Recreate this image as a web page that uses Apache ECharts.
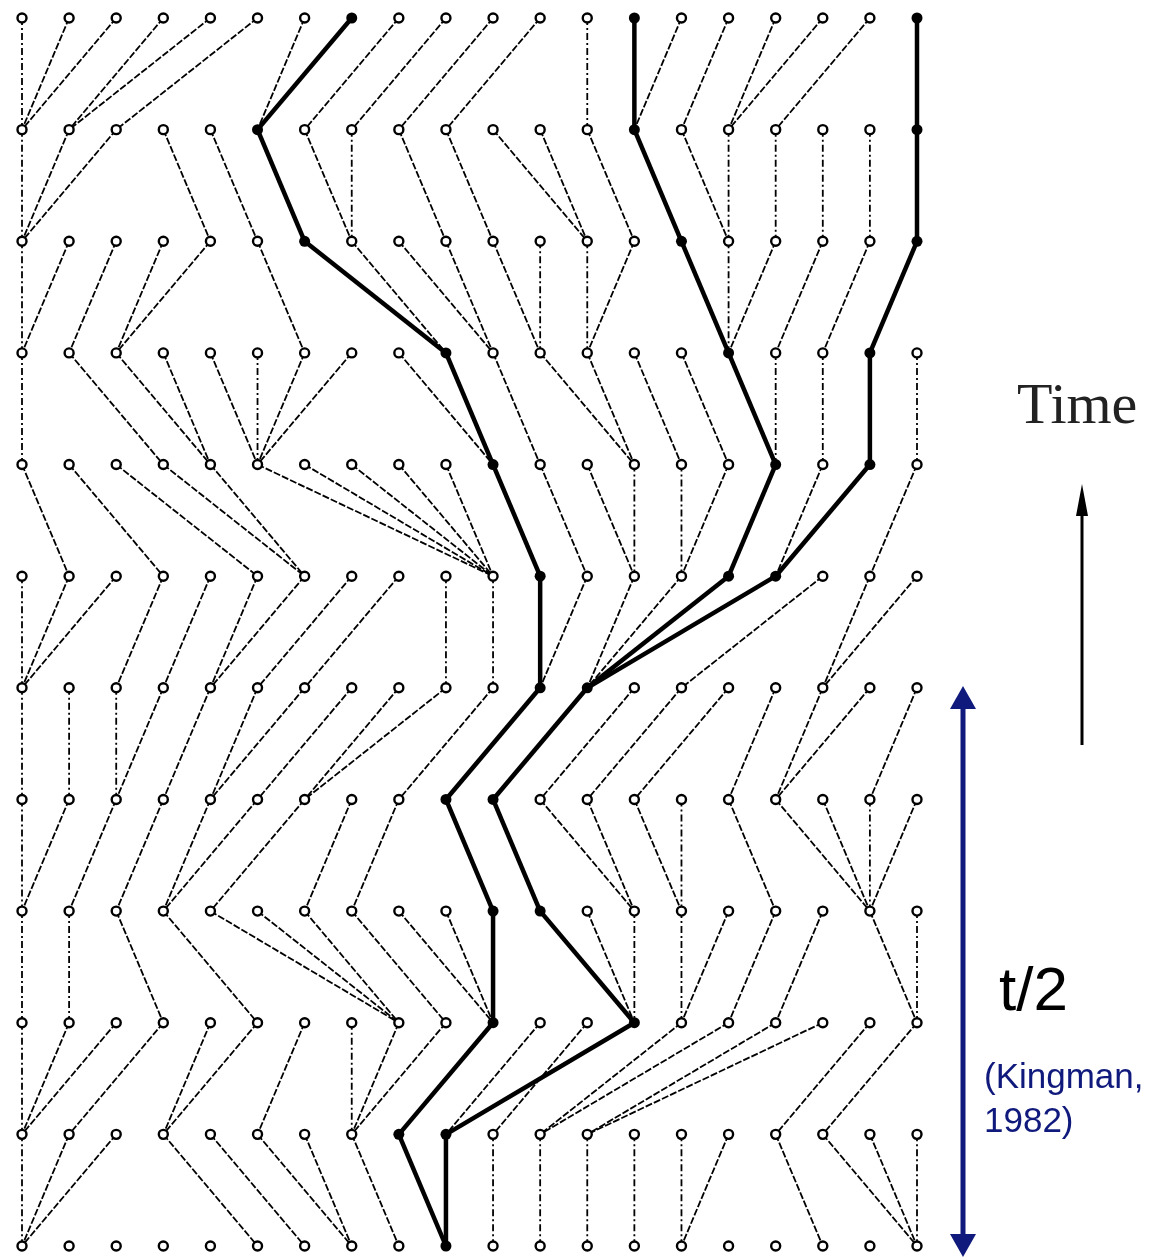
<!DOCTYPE html>
<html><head><meta charset="utf-8">
<script src="https://cdn.jsdelivr.net/npm/echarts@6/dist/echarts.min.js"></script>
<style>html,body{margin:0;padding:0;background:#fff}#c{width:1165px;height:1258px}</style>
</head><body><div id="c"></div>
<script>
// Wright-Fisher genealogy: 20 individuals per generation, 12 generations.
// Row 0 is the present (top); row g+1 is the parent generation of row g.
const columnCount = 20;
const generationCount = 12;
// parentsN[i] = column of the parent (in row N+1) of individual i in row N
const parents0  = [0,0,0,1,1,2,5,5,6,7,8,9,12,13,13,14,15,15,16,19];
const parents1  = [0,0,0,4,5,6,7,7,9,10,12,12,13,14,15,15,16,17,18,19];
const parents2  = [0,0,1,2,2,6,9,9,10,10,11,11,12,12,15,15,15,16,17,18];
const parents3  = [0,3,4,4,5,5,5,5,10,10,11,13,13,14,15,16,16,17,18,19];
const parents4  = [1,3,5,6,6,10,10,10,10,10,11,12,13,13,14,14,15,16,16,18];
const parents5  = [0,0,0,2,3,4,4,5,6,9,10,11,11,12,12,12,12,14,17,17];
const parents6  = [0,1,2,2,3,4,4,5,6,6,8,9,10,11,12,13,15,16,16,18];
const parents7  = [0,0,1,2,3,3,4,6,7,10,11,13,13,14,14,16,18,18,18,18];
const parents8  = [0,1,3,5,8,8,8,9,10,10,10,13,13,13,14,14,15,16,19,19];
const parents9  = [0,0,0,1,3,3,5,7,7,7,8,9,10,9,11,11,12,12,16,17];
const parents10 = [0,0,0,5,6,7,7,8,9,9,10,11,12,13,14,14,17,19,19,19];
// sampled individuals in the present generation whose ancestry is traced
const sampled = [7, 13, 19];

const parentRows = [parents0,parents1,parents2,parents3,parents4,parents5,parents6,parents7,parents8,parents9,parents10];

// ancestral sets per generation
const ancestors = [new Set(sampled)];
for (let g = 0; g < parentRows.length; g++) {
  const next = new Set();
  ancestors[g].forEach(i => next.add(parentRows[g][i]));
  ancestors.push(next);
}

const thinEdges = [], thickEdges = [];
parentRows.forEach((row, g) => {
  row.forEach((p, i) => {
    const e = [i, g, p, g + 1];
    if (ancestors[g].has(i)) thickEdges.push(e.concat(1)); else thinEdges.push(e.concat(0));
  });
});

const openNodes = [], filledNodes = [];
for (let g = 0; g < generationCount; g++) {
  for (let i = 0; i < columnCount; i++) {
    if (ancestors[g].has(i)) filledNodes.push([i, g]); else openNodes.push([i, g]);
  }
}

function renderEdge(params, api) {
  const x1 = api.value(0), y1 = api.value(1), x2 = api.value(2), y2 = api.value(3);
  const thick = api.value(4) === 1;
  const a = api.coord([x1, y1]), b = api.coord([x2, y2]);
  const vertical = x1 === x2;
  return {
    type: 'line',
    shape: { x1: a[0], y1: a[1], x2: b[0], y2: b[1] },
    style: {
      stroke: '#000',
      lineWidth: thick ? 4.5 : 1.8,
      lineDash: thick ? null : (vertical ? [7, 3, 2, 3] : [7, 2])
    }
  };
}

const navy = '#101a7c';
const chart = echarts.init(document.getElementById('c'), null, { renderer: 'canvas' });
chart.setOption({
  backgroundColor: '#fff',
  animation: false,
  grid: { left: 22, top: 18, width: 895, height: 1228 },
  xAxis: { type: 'value', min: 0, max: columnCount - 1, show: false },
  yAxis: { type: 'value', min: 0, max: generationCount - 1, inverse: true, show: false },
  series: [
    { type: 'custom', renderItem: renderEdge, data: thinEdges, z: 1, silent: true },
    { type: 'custom', renderItem: renderEdge, data: thickEdges, z: 2, silent: true },
    { type: 'scatter', data: openNodes, symbol: 'circle', symbolSize: 9, z: 3,
      itemStyle: { color: '#fff', borderColor: '#000', borderWidth: 2.4, opacity: 1 } },
    { type: 'scatter', data: filledNodes, symbol: 'circle', symbolSize: 11, z: 4,
      itemStyle: { color: '#000', opacity: 1 } }
  ],
  graphic: [
    { type: 'text', left: 1017, top: 379, style: { text: 'Time', font: '58px "Liberation Serif", serif', fill: '#222' } },
    { type: 'line', shape: { x1: 1082, y1: 745, x2: 1082, y2: 505 }, style: { stroke: '#000', lineWidth: 3 } },
    { type: 'polygon', shape: { points: [[1082, 484], [1076, 516], [1088, 516]] }, style: { fill: '#000' } },
    { type: 'line', shape: { x1: 963, y1: 700, x2: 963, y2: 1244 }, style: { stroke: navy, lineWidth: 5 } },
    { type: 'polygon', shape: { points: [[963, 686], [950, 709], [976, 709]] }, style: { fill: navy } },
    { type: 'polygon', shape: { points: [[963, 1257], [950, 1234], [976, 1234]] }, style: { fill: navy } },
    { type: 'text', left: 999, top: 962, style: { text: 't/2', font: '62px "Liberation Sans", Arial, sans-serif', fill: '#000' } },
    { type: 'text', left: 984, top: 1061, style: { text: '(Kingman,', font: '35px "Liberation Sans", Arial, sans-serif', fill: navy } },
    { type: 'text', left: 984, top: 1105, style: { text: '1982)', font: '35px "Liberation Sans", Arial, sans-serif', fill: navy } }
  ]
});
</script>
</body></html>
